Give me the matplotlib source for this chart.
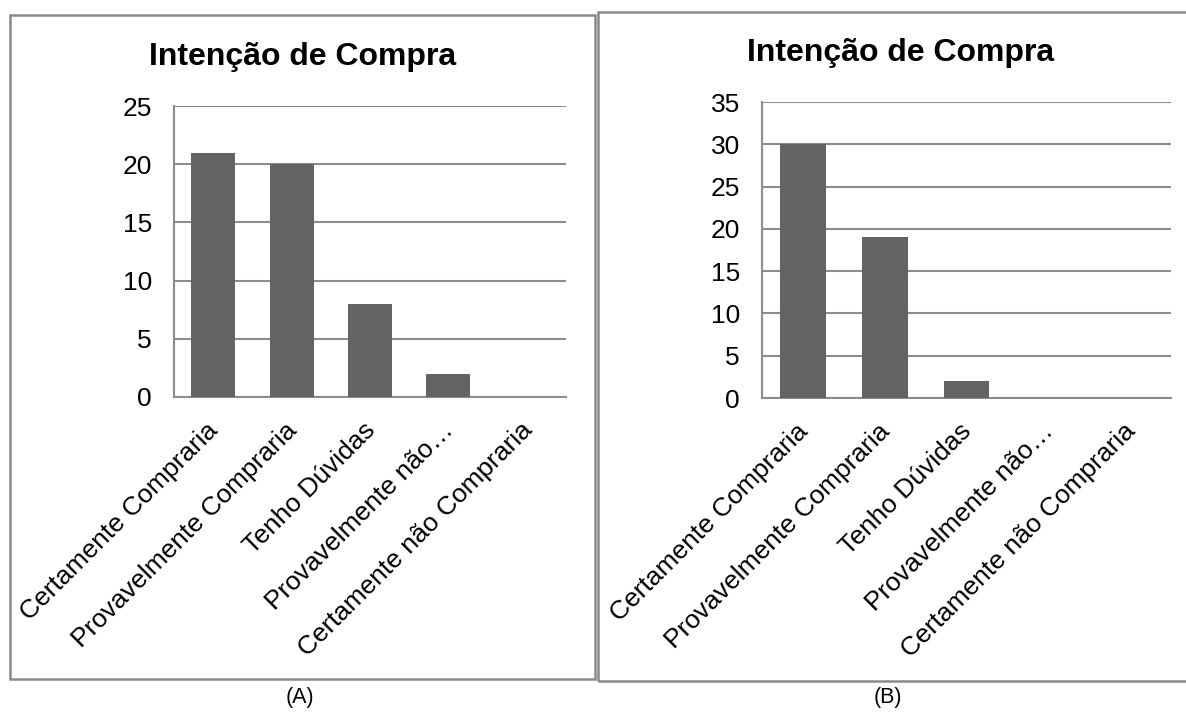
import numpy as np
import matplotlib
matplotlib.use("Agg")
import matplotlib.pyplot as plt
from matplotlib.patches import Rectangle
from matplotlib.transforms import ScaledTranslation

plt.rcParams['font.family'] = ['Liberation Sans', 'DejaVu Sans']

categorias = ["Certamente Compraria", "Provavelmente Compraria", "Tenho Dúvidas",
              "Provavelmente não…", "Certamente não Compraria"]
valores_a = [21, 20, 8, 2, 0]
valores_b = [30, 19, 2, 0, 0]
ticks_a = [0, 5, 10, 15, 20, 25]
ticks_b = [0, 5, 10, 15, 20, 25, 30, 35]

W, H = 1186, 715
BAR = "#636363"
GRID = "#8c8c8c"
FS = 19


def px_box(x0, y0, x1, y1):
    # pixel box (top-left origin) -> figure fraction [left, bottom, width, height]
    return [x0 / W, 1 - y1 / H, (x1 - x0) / W, (y1 - y0) / H]


def painel(fig, box, valores, ticks, largura):
    ax = fig.add_axes(px_box(*box))
    x = np.arange(len(categorias))
    ax.bar(x, valores, width=largura, color=BAR, zorder=3)
    ax.set_xlim(-0.5, len(categorias) - 0.5)
    ax.set_ylim(0, ticks[-1])
    ax.set_yticks(ticks)
    ax.yaxis.grid(True, color=GRID, linewidth=1.5, zorder=0)
    ax.set_axisbelow(True)
    for s in ("top", "right"):
        ax.spines[s].set_visible(False)
    for s in ("left", "bottom"):
        ax.spines[s].set_color(GRID)
        ax.spines[s].set_linewidth(1.5)
    ax.tick_params(axis="both", length=0, labelsize=FS, colors="black")
    ax.tick_params(axis="y", pad=16)
    ax.set_xticks(x)
    ax.set_xticklabels(categorias, rotation=45, ha="right", va="top",
                       rotation_mode="anchor", fontsize=FS)
    ax.tick_params(axis="x", pad=15)
    desloc = ScaledTranslation(-5 / 72, 0, fig.dpi_scale_trans)
    for lbl in ax.get_xticklabels():
        lbl.set_transform(lbl.get_transform() + desloc)
    ax.patch.set_alpha(0)
    return ax


fig = plt.figure(figsize=(W / 100, H / 100), dpi=100)

# molduras dos dois gráficos
fig.patches.append(Rectangle((10 / W, 1 - 679 / H), 585 / W, 664 / H,
                             transform=fig.transFigure, fill=False,
                             edgecolor="#8a8a8a", linewidth=1.8))
fig.patches.append(Rectangle((598 / W, 1 - 681 / H), 600 / W, 669 / H,
                             transform=fig.transFigure, fill=False,
                             edgecolor="#8a8a8a", linewidth=1.8))

painel(fig, (174, 106, 566, 397), valores_a, ticks_a, 0.56)
painel(fig, (762, 102, 1171, 398), valores_b, ticks_b, 0.56)

fig.text(303 / W, 1 - 65 / H, "Intenção de Compra", ha="center", va="baseline",
         fontsize=23, fontweight="bold")
fig.text(901 / W, 1 - 61 / H, "Intenção de Compra", ha="center", va="baseline",
         fontsize=23, fontweight="bold")

fig.text(300 / W, 1 - 697 / H, "(A)", ha="center", va="center", fontsize=15.5)
fig.text(888 / W, 1 - 697 / H, "(B)", ha="center", va="center", fontsize=15.5)

fig.savefig("out.png", dpi=100)
